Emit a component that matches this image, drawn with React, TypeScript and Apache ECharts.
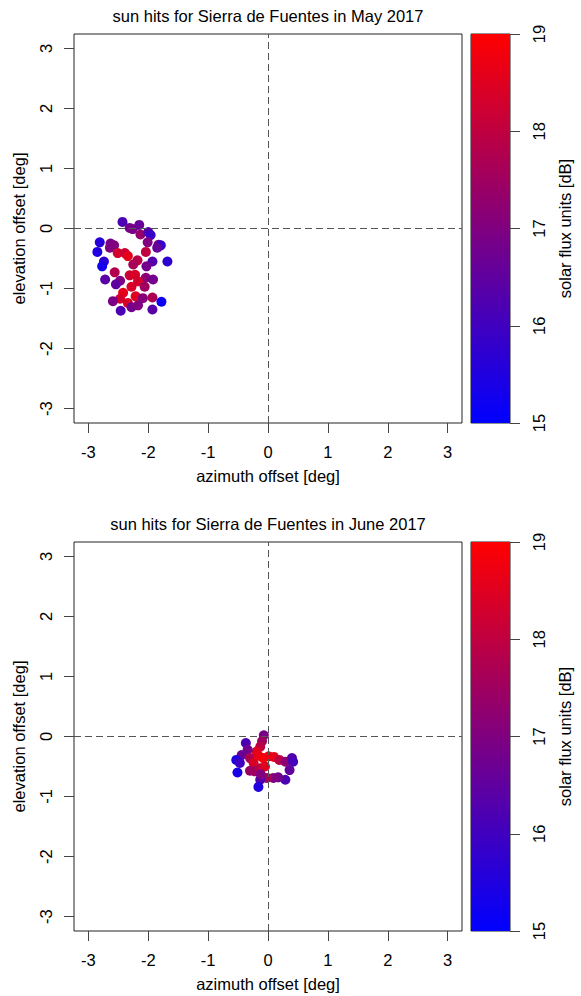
import React, { useEffect, useRef } from "react";
import * as echarts from "echarts";

const tickValues = [-3, -2, -1, 0, 1, 2, 3];
const fluxTicks = [15, 16, 17, 18, 19];

const mayAz = [-2.43, -2.31, -2.26, -2.15, -2.13, -2.0, -1.96, -2.01, -1.83, -1.79, -1.85, -2.81, -2.85, -2.63, -2.57, -2.64, -2.51, -2.39, -2.34, -2.04, -2.74, -2.77, -2.18, -2.25, -1.93, -2.03, -1.68, -2.56, -2.31, -2.22, -2.04, -1.92, -2.72, -2.47, -2.54, -2.17, -2.28, -2.06, -2.42, -2.21, -2.09, -1.93, -2.47, -2.59, -2.34, -2.28, -2.17, -1.78, -2.46, -1.93];
const mayEl = [0.11, 0.01, -0.01, 0.06, -0.1, -0.06, -0.11, -0.23, -0.27, -0.28, -0.32, -0.23, -0.39, -0.25, -0.28, -0.32, -0.41, -0.41, -0.46, -0.39, -0.55, -0.63, -0.53, -0.6, -0.55, -0.63, -0.55, -0.73, -0.78, -0.77, -0.82, -0.85, -0.85, -0.87, -0.93, -0.88, -0.97, -0.97, -1.07, -1.13, -1.16, -1.15, -1.17, -1.21, -1.24, -1.31, -1.28, -1.22, -1.37, -1.35];
const mayFlux = [16.2, 16.8, 16.9, 16.6, 17.3, 16.3, 15.9, 17.0, 16.8, 15.8, 16.6, 15.6, 15.5, 16.9, 17.0, 17.0, 18.3, 18.2, 18.6, 18.0, 15.7, 15.3, 17.9, 17.6, 16.3, 16.8, 15.7, 17.8, 18.2, 18.4, 17.2, 16.8, 16.4, 17.0, 16.5, 18.3, 18.4, 17.5, 18.6, 18.5, 17.1, 17.7, 18.3, 16.9, 18.4, 16.8, 17.0, 15.2, 16.2, 16.4];

const junAz = [-0.07, -0.1, -0.13, -0.19, -0.37, -0.34, -0.44, -0.53, -0.47, -0.51, -0.3, -0.24, -0.16, -0.08, 0.01, 0.1, 0.19, 0.29, 0.4, 0.42, 0.36, 0.29, 0.17, 0.09, -0.02, -0.13, -0.16, -0.3, -0.22, -0.13, -0.05, -0.12];
const junEl = [0.02, -0.08, -0.17, -0.25, -0.11, -0.22, -0.31, -0.39, -0.44, -0.6, -0.36, -0.44, -0.32, -0.36, -0.33, -0.34, -0.39, -0.42, -0.36, -0.42, -0.56, -0.72, -0.68, -0.69, -0.69, -0.72, -0.84, -0.57, -0.58, -0.53, -0.5, -0.63];
const junFlux = [16.9, 17.5, 17.9, 18.5, 16.2, 16.8, 16.7, 15.5, 16.0, 15.4, 17.7, 18.4, 18.6, 18.9, 18.8, 18.6, 18.0, 17.2, 16.3, 16.1, 16.5, 16.2, 16.8, 17.0, 17.6, 16.3, 15.5, 17.4, 17.5, 17.9, 18.5, 17.0];

const titles = ["sun hits for Sierra de Fuentes in May 2017", "sun hits for Sierra de Fuentes in June 2017"];

const FONT = "'Liberation Sans', Arial, Helvetica, sans-serif";
const FS = 16.5;
const PLOT_TOPS = [34, 542];
const PLOT_LEFT = 74;
const PLOT_W = 388;
const PLOT_H = 389;
const CB_LEFT = 471;
const CB_W = 39;

function zip(a: number[], b: number[], c: number[]) {
  return a.map((v, i) => [v, b[i], c[i]]);
}

export default function App() {
  const ref = useRef<HTMLDivElement>(null);
  useEffect(() => {
    document.body.style.margin = "0";
    const chart = echarts.init(ref.current!, null, { renderer: "svg" });
    const grids: any[] = [];
    const xAxes: any[] = [];
    const yAxes: any[] = [];
    const series: any[] = [];
    const titleArr: any[] = [];
    const datasets = [zip(mayAz, mayEl, mayFlux), zip(junAz, junEl, junFlux)];

    PLOT_TOPS.forEach((top, k) => {
      grids.push({ left: PLOT_LEFT, top, width: PLOT_W, height: PLOT_H, show: true, borderColor: "#222", borderWidth: 1, backgroundColor: "#fff" });
      grids.push({ left: CB_LEFT, top, width: CB_W, height: PLOT_H, show: true, borderColor: "#222", borderWidth: 1 });
      titleArr.push({
        text: titles[k],
        left: PLOT_LEFT + PLOT_W / 2,
        top: top - 27,
        textAlign: "center",
        padding: 0,
        textStyle: { fontFamily: FONT, fontSize: FS, fontWeight: "normal", color: "#000" },
      });
      const axisCommon = {
        type: "value",
        min: -3.24,
        max: 3.24,
        splitLine: { show: false },
        axisLine: { show: false, onZero: false },
        axisTick: { show: true, length: 10, customValues: tickValues, lineStyle: { color: "#444" } },
        axisLabel: { customValues: tickValues, fontFamily: FONT, fontSize: FS, color: "#000", margin: 20 },
        nameLocation: "middle",
        nameTextStyle: { fontFamily: FONT, fontSize: FS, color: "#000" },
      };
      xAxes.push({ ...axisCommon, gridIndex: 2 * k, position: "bottom", name: "azimuth offset [deg]", nameGap: 44 });
      yAxes.push({
        ...axisCommon,
        gridIndex: 2 * k,
        position: "left",
        name: "elevation offset [deg]",
        nameGap: 47,
        nameRotate: 90,
        axisLabel: { ...axisCommon.axisLabel, rotate: 90, margin: 20 },
      });
      xAxes.push({ type: "category", gridIndex: 2 * k + 1, data: ["flux"], show: false, boundaryGap: true });
      yAxes.push({
        type: "value",
        gridIndex: 2 * k + 1,
        position: "right",
        min: 15,
        max: 19,
        interval: 1,
        splitLine: { show: false },
        axisLine: { show: false },
        axisTick: { show: true, length: 10, lineStyle: { color: "#444" } },
        axisLabel: { fontFamily: FONT, fontSize: FS, color: "#000", rotate: 90, margin: 20 },
        name: "solar flux units [dB]",
        nameLocation: "middle",
        nameGap: 46,
        nameRotate: 90,
        nameTextStyle: { fontFamily: FONT, fontSize: FS, color: "#000" },
      });
      series.push({
        type: "scatter",
        xAxisIndex: 2 * k,
        yAxisIndex: 2 * k,
        data: datasets[k],
        symbolSize: 10,
        itemStyle: { opacity: 1 },
        markLine: {
          silent: true,
          symbol: ["none", "none"],
          label: { show: false },
          lineStyle: { type: [7, 4], color: "#555", width: 1 },
          data: [{ xAxis: 0 }, { yAxis: 0 }],
        },
        z: 3,
      });
      series.push({
        type: "bar",
        xAxisIndex: 2 * k + 1,
        yAxisIndex: 2 * k + 1,
        data: [fluxTicks[fluxTicks.length - 1]],
        barWidth: "100%",
        itemStyle: {
          color: new echarts.graphic.LinearGradient(0, 1, 0, 0, [
            { offset: 0, color: "#0000ff" },
            { offset: 1, color: "#ff0000" },
          ]),
        },
        z: 1,
      });
    });

    chart.setOption({
      animation: false,
      backgroundColor: "#fff",
      title: titleArr,
      grid: grids,
      xAxis: xAxes,
      yAxis: yAxes,
      visualMap: {
        show: false,
        type: "continuous",
        seriesIndex: [0, 2],
        dimension: 2,
        min: 15,
        max: 19,
        inRange: { color: ["#0000ff", "#ff0000"] },
      },
      series,
    });
    return () => chart.dispose();
  }, []);
  return <div ref={ref} style={{ width: 581, height: 996 }} />;
}
